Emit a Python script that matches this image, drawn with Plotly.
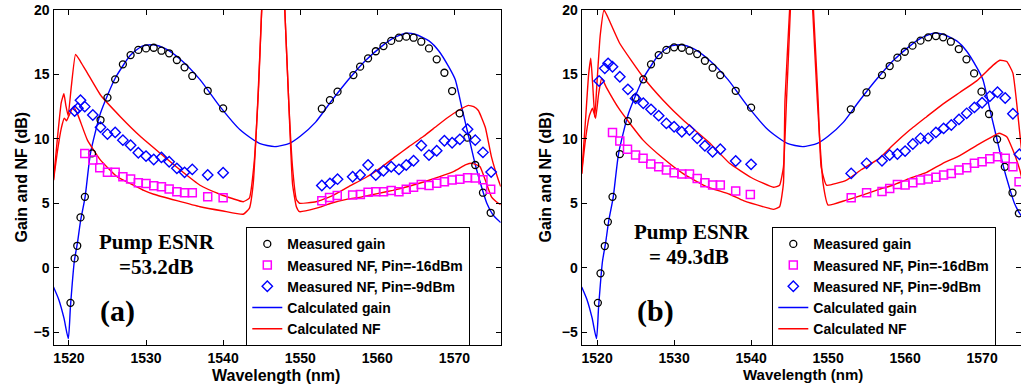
import plotly.graph_objects as go

W, H = 1021, 387
MT, MB = 10, 42

# ---------------- data ----------------
# calculated gain (same in both panels)
gain_calc_x = [1518, 1518.7, 1519.35, 1519.92, 1520.2, 1520.7, 1521.1, 1521.5, 1522.1, 1522.8, 1524.1, 1526,
               1528, 1529.5, 1531, 1532.5, 1534.4, 1537, 1539.6, 1542.2, 1544.7, 1546.7, 1548.6, 1550, 1552,
               1554, 1556.4, 1558.5, 1560.6, 1562, 1563.7, 1565, 1566.7, 1568, 1569.25, 1570.1, 1571, 1571.8,
               1572.7, 1573.5, 1574.2, 1575, 1576]
gain_calc_y = [-1.5, -2.5, -3.9, -5.5, -3.0, 0.5, 1.9, 3.6, 5.5, 8.9, 12.0, 14.7,
               16.5, 17.2, 17.3, 17.0, 16.2, 14.6, 12.5, 10.7, 9.65, 9.4, 9.65, 10.2, 11.3,
               12.9, 14.7, 16.1, 17.2, 17.8, 18.2, 18.1, 17.6, 16.8, 15.6, 14.6, 12.3, 10.3,
               8.0, 6.3, 5.0, 4.1, 3.5]

# panel (a) measured
gain_a_x = [1520.2, 1520.74, 1521.08, 1521.5, 1522.07, 1523, 1524.1, 1525, 1526, 1527, 1528, 1529, 1530, 1531,
            1532, 1533, 1534, 1535, 1536, 1538, 1540,
            1552.8, 1553.85, 1554.84, 1556.9, 1557.77, 1558.8, 1559.8, 1560.8, 1561.8, 1562.8, 1563.75,
            1564.7, 1565.7, 1566.7, 1567.7, 1568.7, 1569.7, 1570.67, 1571.67, 1572.7, 1573.7, 1574.7]
gain_a_y = [-2.73, 0.72, 1.7, 3.9, 5.5, 8.87, 11.46, 13.2, 14.62, 15.78, 16.5, 16.9, 17.02, 17.07,
            16.84, 16.64, 16.12, 15.55, 14.88, 13.73, 12.37,
            12.34, 13.0, 13.66, 14.95, 15.6, 16.25, 16.8, 17.2, 17.6, 17.85, 17.93,
            17.85, 17.54, 17.02, 16.17, 15.13, 13.71, 11.98, 10.09, 7.97, 5.82, 4.26]

nf16_a_x = [1522.06, 1523.1, 1524.0, 1525, 1526, 1527, 1528, 1529, 1530, 1531, 1532, 1533, 1534, 1535, 1536,
            1538, 1540,
            1552.8, 1553.8, 1554.8, 1556.8, 1557.8, 1558.8, 1559.8, 1560.8, 1561.8, 1562.8, 1563.75, 1564.7,
            1565.7, 1566.7, 1567.7, 1568.7, 1569.7, 1570.7, 1571.7, 1572.7, 1573.7, 1574.7]
nf16_a_y = [8.87, 8.35, 7.76, 7.4, 7.4, 7.06, 6.88, 6.59, 6.54, 6.36, 6.28, 6.1, 5.89, 5.82, 5.82,
            5.5, 5.42,
            5.2, 5.45, 5.6, 5.64, 5.69, 5.85, 5.89, 5.89, 6.0, 5.9, 6.08, 6.24,
            6.45, 6.37, 6.55, 6.67, 6.8, 6.87, 6.98, 6.96, 6.83, 6.08]

nf9_a_x = [1520.74, 1521.16, 1521.5, 1522.06, 1523.1, 1524.1, 1525, 1526, 1527, 1528, 1529, 1530, 1531, 1532,
           1533, 1534, 1535, 1536, 1538, 1540,
           1552.8, 1553.85, 1554.84, 1556.8, 1557.77, 1558.8, 1559.8, 1560.8, 1561.8, 1562.8, 1563.75,
           1564.7, 1565.7, 1566.7, 1567.7, 1568.7, 1569.7, 1570.7, 1571.7, 1572.7, 1573.7, 1574.76]
nf9_a_y = [12.16, 12.37, 13.0, 12.5, 11.85, 10.9, 10.37, 10.5, 9.9, 9.5, 8.92, 8.66, 8.4, 8.56,
           8.22, 7.71, 7.4, 7.63, 7.19, 7.37,
           6.38, 6.54, 6.87, 7.06, 7.19, 7.97, 7.19, 7.52, 7.83, 7.63, 7.97,
           8.3, 9.48, 8.74, 9.08, 9.85, 9.7, 9.96, 10.74, 9.9, 8.95, 7.42]

nf_hi_a_x = [1518, 1518.5, 1519.0, 1519.35, 1519.6, 1519.9, 1520.3, 1520.86, 1521.5, 1522.4, 1524.1, 1526.7,
             1529.25, 1531.8, 1534.4, 1537, 1539.6, 1541.3, 1542.6, 1543.4, 1544.0, 1544.6, 1545.0, 1545.6,
             1546.3, 1547.1, 1548.0, 1548.5, 1549.0, 1549.5, 1549.9, 1552.05, 1554.2, 1556.3, 1558.5, 1560.6,
             1562.3, 1564.1, 1566, 1567.5, 1569, 1570.5, 1571.8, 1572.5, 1573.1, 1574, 1574.8, 1575.7, 1576]
nf_hi_a_y = [6.8, 10.0, 12.8, 13.5, 12.6, 11.8, 14.0, 16.56, 16.0, 15.1, 13.4, 11.7,
             10.2, 8.9, 7.6, 6.4, 5.7, 5.35, 5.12, 5.4, 8.0, 14.0, 20.0, 30.0,
             42.0, 32.0, 20.0, 13.0, 7.8, 5.3, 5.0, 5.12, 5.6, 6.3, 7.0, 7.83,
             8.6, 9.4, 10.2, 10.9, 11.6, 12.2, 12.6, 12.5, 12.2, 10.9, 8.6, 6.8, 6.3]

nf_lo_a_x = [1518, 1518.5, 1519.0, 1519.4, 1519.7, 1520.0, 1520.6, 1521.2, 1522.4, 1524.1, 1526.25, 1528.4,
             1529.7, 1531, 1534, 1537, 1540, 1542.6, 1543.4, 1543.9, 1544.5, 1545.0, 1545.6, 1546.3, 1547.1,
             1548.0, 1548.5, 1549.0, 1549.5, 1549.9, 1552, 1554, 1556, 1558, 1560, 1562, 1564, 1566, 1568,
             1570, 1571.5, 1572.3, 1573.3, 1574, 1574.8, 1575.7, 1576]
nf_lo_a_y = [6.8, 9.0, 10.8, 11.6, 11.4, 11.8, 12.5, 11.8, 9.9, 8.35, 7.06, 6.4,
             6.0, 5.7, 5.2, 4.73, 4.4, 4.15, 4.6, 6.5, 13.0, 20.0, 30.0, 42.0, 32.0,
             20.0, 13.0, 6.5, 4.73, 4.35, 4.6, 5.0, 5.3, 5.5, 5.75, 6.0, 6.3, 6.65, 7.05,
             7.5, 8.0, 8.1, 7.85, 6.8, 5.5, 5.0, 4.9]

# panel (b) measured
gain_b_x = [1520.1, 1520.44, 1521, 1521.4, 1522, 1522.95, 1524, 1525, 1526, 1527, 1528, 1529, 1530, 1531,
            1532, 1533, 1534, 1535, 1536, 1538, 1540,
            1552.95, 1554.99, 1557.0, 1558.0, 1559.0, 1559.96, 1560.96, 1562, 1563, 1564, 1564.94, 1565.94,
            1566.97, 1567.97, 1568.96, 1569.92, 1570.9, 1571.95, 1572.95, 1573.95, 1574.77]
gain_b_y = [-2.73, -0.44, 1.68, 3.56, 5.5, 8.82, 11.38, 13.19, 14.62, 15.78, 16.5, 16.9, 17.1, 17.07,
            16.84, 16.58, 16.06, 15.52, 14.95, 13.73, 12.42,
            12.29, 13.6, 14.95, 15.65, 16.3, 16.76, 17.23, 17.62, 17.88, 17.98, 17.88, 17.54,
            16.97, 16.17, 15.08, 13.66, 11.93, 9.96, 7.83, 5.82, 4.22]

nf16_b_x = [1522, 1522.95, 1523.95, 1525, 1525.97, 1526.97, 1528, 1529, 1530, 1531, 1532, 1533, 1534, 1535,
            1536, 1538, 1539.9,
            1553, 1555, 1557, 1558, 1559, 1560, 1561, 1562, 1563, 1564, 1565, 1566, 1567, 1568, 1569, 1570,
            1571, 1572, 1573, 1574, 1574.8]
nf16_b_y = [10.5, 9.83, 9.2, 8.74, 8.49, 8.04, 7.83, 7.58, 7.37, 7.27, 7.27, 6.93, 6.6, 6.41,
            6.41, 5.95, 5.69,
            5.42, 5.82, 5.92, 6.15, 6.46, 6.41, 6.6, 6.8, 6.88, 7.01, 7.19, 7.32, 7.58, 7.76, 8.1, 8.22,
            8.45, 8.61, 8.49, 7.83, 6.67]

nf9_b_x = [1520.26, 1521, 1521.43, 1522, 1522.95, 1524, 1525, 1526, 1527, 1528, 1529, 1530, 1531, 1532,
           1533, 1534, 1535, 1536, 1538, 1540,
           1553, 1555, 1557, 1558, 1559, 1560, 1561, 1562, 1563, 1564, 1565, 1566, 1567, 1568, 1569, 1570,
           1571, 1572, 1573, 1574, 1574.85]
nf9_b_y = [14.49, 15.47, 15.86, 15.6, 14.82, 13.84, 13.14, 12.76, 12.29, 11.8, 11.2, 10.94, 10.55, 10.68,
           10.04, 9.46, 9.0, 9.19, 8.28, 8.02,
           7.32, 8.1, 8.3, 8.74, 8.82, 9.05, 9.6, 10.04, 10.04, 10.5, 10.81, 11.07, 11.51, 11.98, 12.44, 12.8,
           13.3, 13.62, 13.17, 11.95, 8.8]

nf_hi_b_x = [1518, 1518.5, 1518.9, 1519.18, 1519.45, 1519.7, 1520.0, 1520.4, 1520.9, 1521.5, 1522.95, 1525.97,
             1528.57, 1531.17, 1534.6, 1537.2, 1540, 1542.9, 1543.7, 1544.2, 1544.6, 1545.1, 1545.6, 1546.3,
             1547.1, 1548.1, 1548.7, 1549.1, 1549.8, 1552.4, 1554.3, 1556.7, 1558.4, 1560.6, 1562.8, 1564.9,
             1567.1, 1569.3, 1571.4, 1572.3, 1573.2, 1574.0, 1574.9, 1575.5]
nf_hi_b_y = [7.3, 11.5, 15.0, 16.25, 14.0, 11.7, 14.5, 18.0, 20.0, 19.3, 17.4, 14.8,
             13.0, 11.46, 9.7, 8.1, 7.0, 6.24, 6.4, 7.8, 13.0, 20.0, 30.0, 42.0,
             32.0, 20.0, 13.0, 7.8, 6.4, 6.8, 7.6, 8.5, 9.5, 10.68, 11.72, 12.7,
             13.6, 14.5, 15.7, 16.1, 16.0, 15.1, 10.4, 7.0]

nf_lo_b_x = [1518, 1518.5, 1519.0, 1519.4, 1519.8, 1520.2, 1520.6, 1521.2, 1522.95, 1525.97, 1528.57, 1531.17,
             1534.2, 1537.2, 1539, 1542.4, 1542.9, 1543.7, 1544.2, 1544.4, 1545.0, 1545.6, 1546.3, 1547.1,
             1548.0, 1548.6, 1549.35, 1550.0, 1552.4, 1554.5, 1556.7, 1558.4, 1560.6, 1562.8, 1564.9, 1567.1,
             1569.3, 1571.4, 1572.2, 1573.2, 1574.0, 1574.9, 1575.5]
nf_lo_b_y = [7.3, 10.0, 11.8, 12.37, 11.6, 13.5, 14.7, 14.0, 12.24, 9.9, 8.49, 7.3,
             6.3, 5.7, 5.2, 4.6, 4.53, 4.73, 6.54, 13.0, 20.0, 30.0, 42.0, 32.0,
             20.0, 13.0, 6.54, 4.86, 5.25, 5.64, 6.1, 6.4, 6.93, 7.4, 8.1, 8.7,
             9.5, 10.2, 10.43, 10.17, 9.13, 7.58, 6.0]

x_ticks = [1520, 1530, 1540, 1550, 1560, 1570]
y_ticks = [-5, 0, 5, 10, 15, 20]

legend_names = ["Measured gain", "Measured NF, Pin=-16dBm", "Measured NF, Pin=-9dBm",
                "Calculated gain", "Calculated NF"]

# ---------------- figure ----------------
def px(x):
    return x / W

def py(y):
    return (H - MB - y) / (H - MT - MB)

BLUE = "#0000FF"
RED = "#FF0000"
MAG = "#FF00FF"

fig = go.Figure()

panels = [
    ("x", "y", "legend", gain_a_x, gain_a_y, nf16_a_x, nf16_a_y, nf9_a_x, nf9_a_y,
     nf_hi_a_x, nf_hi_a_y, nf_lo_a_x, nf_lo_a_y),
    ("x2", "y2", "legend2", gain_b_x, gain_b_y, nf16_b_x, nf16_b_y, nf9_b_x, nf9_b_y,
     nf_hi_b_x, nf_hi_b_y, nf_lo_b_x, nf_lo_b_y),
]

for (xa, ya, lg, gx, gy, sx, sy, dx, dy, hx, hy, lx, ly) in panels:
    fig.add_trace(go.Scatter(x=gain_calc_x, y=gain_calc_y, mode="lines", name=legend_names[3],
                             line=dict(color=BLUE, width=1.4, shape="spline", smoothing=0.6),
                             xaxis=xa, yaxis=ya, legend=lg, legendrank=4))
    fig.add_trace(go.Scatter(x=hx, y=hy, mode="lines", name=legend_names[4],
                             line=dict(color=RED, width=1.4, shape="spline", smoothing=0.4),
                             xaxis=xa, yaxis=ya, legend=lg, legendrank=5))
    fig.add_trace(go.Scatter(x=lx, y=ly, mode="lines", name=legend_names[4], showlegend=False,
                             line=dict(color=RED, width=1.4, shape="spline", smoothing=0.4),
                             xaxis=xa, yaxis=ya, legend=lg))
    fig.add_trace(go.Scatter(x=gx, y=gy, mode="markers", name=legend_names[0],
                             marker=dict(symbol="circle-open", size=7, color="black", line=dict(width=1.3)),
                             xaxis=xa, yaxis=ya, legend=lg, legendrank=1))
    fig.add_trace(go.Scatter(x=sx, y=sy, mode="markers", name=legend_names[1],
                             marker=dict(symbol="square-open", size=8, color=MAG, line=dict(width=1.5)),
                             xaxis=xa, yaxis=ya, legend=lg, legendrank=2))
    fig.add_trace(go.Scatter(x=dx, y=dy, mode="markers", name=legend_names[2],
                             marker=dict(symbol="diamond-open", size=8, color=BLUE, line=dict(width=1.4)),
                             xaxis=xa, yaxis=ya, legend=lg, legendrank=3))

tickfont = dict(family="Liberation Sans, Arial, sans-serif", size=14, color="black", weight="bold")
axis_common = dict(showline=True, linecolor="black", linewidth=1.3, mirror="ticks", ticks="inside",
                   ticklen=5, tickwidth=1.2, tickcolor="black", showgrid=False, zeroline=False,
                   tickfont=tickfont)

fig.update_layout(
    width=W, height=H,
    margin=dict(l=0, r=0, t=MT, b=MB),
    paper_bgcolor="white", plot_bgcolor="white",
    xaxis=dict(domain=[px(53.5), px(500.7)], range=[1518, 1576], tickvals=x_ticks, anchor="y", **axis_common),
    yaxis=dict(range=[-6, 20], tickvals=y_ticks, anchor="x", **axis_common),
    xaxis2=dict(domain=[px(581.7), 1.0], range=[1518, 1518 + (W - 581.7) / 7.7], tickvals=x_ticks,
                anchor="y2", **axis_common),
    yaxis2=dict(range=[-6, 20], tickvals=y_ticks, anchor="x2", **axis_common),
    legend=dict(x=px(246), y=py(227), xanchor="left", yanchor="top", bgcolor="white",
                bordercolor="black", borderwidth=1.3,
                font=dict(family="Liberation Sans, Arial, sans-serif", size=14, color="black", weight="bold")),
    legend2=dict(x=px(772), y=py(227), xanchor="left", yanchor="top", bgcolor="white",
                 bordercolor="black", borderwidth=1.3,
                 font=dict(family="Liberation Sans, Arial, sans-serif", size=14, color="black", weight="bold")),
    showlegend=True,
)

title_font = dict(family="Liberation Sans, Arial, sans-serif", size=16, color="black", weight="bold")
serif = "Liberation Serif, Times New Roman, serif"
ann = [
    dict(text="Gain and NF (dB)", x=px(21), y=py(177.5), textangle=-90, font=title_font),
    dict(text="Gain and NF (dB)", x=px(545), y=py(177.5), textangle=-90, font=title_font),
    dict(text="Wavelength (nm)", x=px(276), y=py(375), font=title_font),
    dict(text="Wavelength (nm)", x=px(803), y=py(374), font=dict(title_font, size=15)),
    dict(text="Pump ESNR", x=px(157), y=py(242), font=dict(family=serif, size=21, color="black", weight="bold")),
    dict(text="=53.2dB", x=px(155.5), y=py(267), font=dict(family=serif, size=21, color="black", weight="bold")),
    dict(text="(a)", x=px(117.5), y=py(311), font=dict(family=serif, size=30, color="black", weight="bold")),
    dict(text="Pump ESNR", x=px(691.5), y=py(232), font=dict(family=serif, size=21, color="black", weight="bold")),
    dict(text="= 49.3dB", x=px(689), y=py(257), font=dict(family=serif, size=21, color="black", weight="bold")),
    dict(text="(b)", x=px(655), y=py(311), font=dict(family=serif, size=30, color="black", weight="bold")),
]
for a in ann:
    a.update(xref="paper", yref="paper", showarrow=False, xanchor="center", yanchor="middle")
fig.update_layout(annotations=ann)

fig.write_html("out.html", config={"displayModeBar": False},
               post_script="document.body.style.margin='0px';")
